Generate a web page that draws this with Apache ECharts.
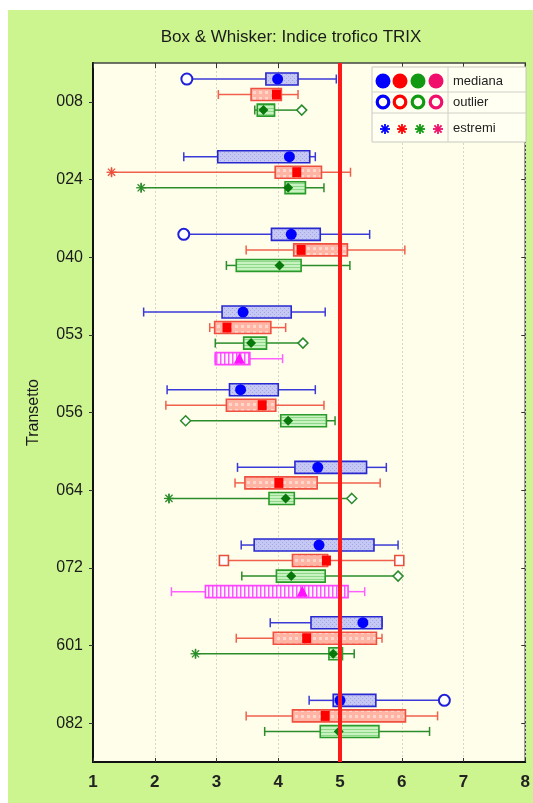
<!DOCTYPE html>
<html><head><meta charset="utf-8">
<script src="https://cdn.jsdelivr.net/npm/echarts@6/dist/echarts.min.js"></script>
<style>html,body{margin:0;padding:0;background:#fff}#c{width:533px;height:803px}</style>
</head><body><div id="c"></div>
<script>
// ---------- DATA ----------
const categories = ['008','024','040','053','056','064','072','601','082'];
// [min, q1, median, q3, max] per category (null = no box)
const blueBox = [
  [2.52,3.80,3.99,4.32,4.94],
  [2.47,3.02,4.18,4.51,4.60],
  [2.47,3.89,4.21,4.68,5.48],
  [1.82,3.09,3.43,4.21,4.76],
  [2.20,3.21,3.39,4.00,4.60],
  [3.34,4.27,4.64,5.43,5.75],
  [3.40,3.61,4.66,5.55,5.94],
  [3.87,4.53,5.37,5.68,5.68],
  [4.50,4.89,5.00,5.58,6.69]
];
const redBox = [
  [3.03,3.56,3.97,4.05,4.32],
  [1.30,3.95,4.30,4.70,5.17],
  [3.48,4.25,4.37,5.12,6.05],
  [2.89,2.97,3.17,3.88,4.12],
  [2.18,3.16,3.74,3.96,4.74],
  [3.30,3.46,4.01,4.63,5.65],
  [3.12,4.23,4.78,4.80,5.96],
  [3.32,3.92,4.46,5.59,5.68],
  [3.48,4.23,4.76,6.06,6.58]
];
const greenBox = [
  [3.62,3.66,3.76,3.94,4.38],
  [1.78,4.11,4.16,4.44,4.74],
  [3.16,3.32,4.02,4.37,5.16],
  [2.98,3.44,3.56,3.81,4.40],
  [2.50,4.04,4.16,4.78,4.92],
  [2.23,3.85,4.12,4.26,5.19],
  [3.41,3.97,4.21,4.76,5.94],
  [2.66,4.82,4.89,5.04,5.23],
  [3.78,4.68,4.98,5.63,6.45]
];
const magentaBox = [null,null,null,[2.98,2.98,3.37,3.54,4.07],null,null,[2.27,2.82,4.39,5.13,5.40],null,null];
// [categoryIndex, value]
const blueOutliers = [[0,2.52],[2,2.47],[8,6.69]];
const redOutliers = [[6,3.12],[6,5.96]];
const greenOutliers = [[0,4.38],[3,4.40],[4,2.50],[5,5.19],[6,5.94]];
const redExtremes = [[1,1.30]];
const greenExtremes = [[1,1.78],[5,2.23],[7,2.66]];
const referenceValue = 5;
const xMin = 1, xMax = 8, xStep = 1;

// ---------- PATTERNS ----------
function pat(w, h, draw) {
  const c = document.createElement('canvas'); c.width = w; c.height = h;
  draw(c.getContext('2d')); return {image: c, repeat: 'repeat'};
}
const bluePat = pat(4, 4, g => { g.fillStyle = '#c6c8f4'; g.fillRect(0,0,4,4); g.fillStyle = '#a4a6e8'; g.fillRect(0,0,1,1); g.fillRect(2,2,1,1); });
const redPat = pat(6, 6, g => { g.fillStyle = '#ffb4a4'; g.fillRect(0,0,6,6); g.fillStyle = '#ffd6cc'; g.fillRect(1,1,3,3); });
const greenPat = pat(4, 3, g => { g.fillStyle = '#c8f2c0'; g.fillRect(0,0,4,3); g.fillStyle = '#8ed88a'; g.fillRect(0,0,4,1); });
const magPat = pat(4, 4, g => { g.fillStyle = '#fff4ff'; g.fillRect(0,0,4,4); g.fillStyle = '#ff55ff'; g.fillRect(0,0,1.5,4); });

const styles = {
  blue:    {line:'#3a3ad8', box:'#2828d0', pattern:bluePat,  median:'circle',   mc:'#0000ff'},
  red:     {line:'#f0604c', box:'#f05040', pattern:redPat,   median:'square',   mc:'#ff0000'},
  green:   {line:'#2a8c2a', box:'#2a9a2a', pattern:greenPat, median:'diamond',  mc:'#08780a'},
  magenta: {line:'#ff60ff', box:'#ff44ff', pattern:magPat,   median:'triangle', mc:'#ff10ff'}
};

function slotY(api, cat, slot) {
  const band = api.size([0, 1])[1];
  return api.coord([xMin, cat])[1] + (slot - 1.5) * band * 0.2 + 0.5;
}
function marker(type, x, y, fill, stroke, open) {
  const st = open ? {fill:'#ffffff', stroke:stroke, lineWidth:open} : {fill:fill};
  if (type === 'circle') return {type:'circle', shape:{cx:x, cy:y, r:5.5}, style:st};
  if (type === 'square') return {type:'rect', shape:{x:x-4.5, y:y-5, width:9, height:10}, style:st};
  if (type === 'diamond') return {type:'polygon', shape:{points:[[x,y-5],[x+5,y],[x,y+5],[x-5,y]]}, style:st};
  if (type === 'triangle') return {type:'polygon', shape:{points:[[x,y-6],[x+5.5,y+5],[x-5.5,y+5]]}, style:st};
  if (type === 'star') {
    const r = 5, d = 3.6, s = {stroke:stroke, lineWidth:1.3};
    return {type:'group', children:[
      {type:'line', shape:{x1:x-r,y1:y,x2:x+r,y2:y}, style:s},
      {type:'line', shape:{x1:x,y1:y-r,x2:x,y2:y+r}, style:s},
      {type:'line', shape:{x1:x-d,y1:y-d,x2:x+d,y2:y+d}, style:s},
      {type:'line', shape:{x1:x-d,y1:y+d,x2:x+d,y2:y-d}, style:s}
    ]};
  }
}
function boxSeries(name, boxes, slot, st) {
  return {
    type:'custom', name:name, z:3,
    data: boxes.map((b, i) => b ? [i].concat(b) : null).filter(Boolean),
    encode:{x:[1,2,3,4,5], y:0},
    renderItem: function (params, api) {
      const cat = api.value(0);
      const y = slotY(api, cat, slot);
      const px = k => api.coord([api.value(k), cat])[0];
      const x0 = px(1), x1 = px(2), xm = px(3), x3 = px(4), x4 = px(5);
      const hh = 6, ch = 4.5;
      const ls = {stroke: st.line, lineWidth: 1.5};
      return {type:'group', children:[
        {type:'line', shape:{x1:x0,y1:y,x2:x1,y2:y}, style:ls},
        {type:'line', shape:{x1:x3,y1:y,x2:x4,y2:y}, style:ls},
        {type:'line', shape:{x1:x0,y1:y-ch,x2:x0,y2:y+ch}, style:ls},
        {type:'line', shape:{x1:x4,y1:y-ch,x2:x4,y2:y+ch}, style:ls},
        {type:'rect', shape:{x:x1, y:y-hh, width:x3-x1, height:2*hh}, style:{fill:st.pattern, stroke:st.box, lineWidth:1.6}},
        marker(st.median, xm, y, st.mc)
      ]};
    }
  };
}
function pointSeries(name, pts, slot, type, color, open) {
  return {
    type:'custom', name:name, z:4,
    data: pts.map(p => [p[0], p[1]]),
    encode:{x:1, y:0},
    renderItem: function (params, api) {
      const cat = api.value(0);
      const y = slotY(api, cat, slot);
      const x = api.coord([api.value(1), cat])[0];
      return marker(type, x, y, color, color, open);
    }
  };
}

const FONT = 'Liberation Sans, Arial, sans-serif';
const chart = echarts.init(document.getElementById('c'), null, {renderer:'canvas'});

const legendX = 372, legendY = 67;
const legCols = ['#0000ff', '#ff0000', '#119a11', '#f0106c'];
const legXs = [383, 400, 418, 436];
const LZ = 100;
const legendChildren = [
  {type:'rect', z:LZ, shape:{x:legendX, y:legendY, width:154, height:75}, style:{fill:'#fffff2', stroke:'#c8c8c0', lineWidth:1}},
  {type:'line', z:LZ+1, shape:{x1:448, y1:legendY, x2:448, y2:legendY+75}, style:{stroke:'#d0d0c8', lineWidth:1}},
  {type:'line', z:LZ+1, shape:{x1:legendX, y1:92, x2:legendX+154, y2:92}, style:{stroke:'#d0d0c8', lineWidth:1}},
  {type:'line', z:LZ+1, shape:{x1:legendX, y1:113, x2:legendX+154, y2:113}, style:{stroke:'#d0d0c8', lineWidth:1}},
  {type:'text', z:LZ+2, x:453, y:81, style:{text:'mediana', font:'13px ' + FONT, fill:'#222', verticalAlign:'middle'}},
  {type:'text', z:LZ+2, x:453, y:102, style:{text:'outlier', font:'13px ' + FONT, fill:'#222', verticalAlign:'middle'}},
  {type:'text', z:LZ+2, x:453, y:128, style:{text:'estremi', font:'13px ' + FONT, fill:'#222', verticalAlign:'middle'}}
];
legCols.forEach((c, i) => {
  legendChildren.push({type:'circle', z:LZ+2, shape:{cx:legXs[i], cy:81, r:7.5}, style:{fill:c}});
  legendChildren.push({type:'circle', z:LZ+2, shape:{cx:legXs[i], cy:102, r:5.8}, style:{fill:'#fffff2', stroke:c, lineWidth:3.2}});
  const x = legXs[i] + 2, y = 129, r = 5, d = 3.6, s = {stroke:c, lineWidth:1.8};
  legendChildren.push({type:'line', z:LZ+2, shape:{x1:x-r,y1:y,x2:x+r,y2:y}, style:s});
  legendChildren.push({type:'line', z:LZ+2, shape:{x1:x,y1:y-r,x2:x,y2:y+r}, style:s});
  legendChildren.push({type:'line', z:LZ+2, shape:{x1:x-d,y1:y-d,x2:x+d,y2:y+d}, style:s});
  legendChildren.push({type:'line', z:LZ+2, shape:{x1:x-d,y1:y+d,x2:x+d,y2:y-d}, style:s});
});

chart.setOption({
  animation:false,
  backgroundColor:'#ffffff',
  graphic:[
    {type:'rect', z:-10, shape:{x:8, y:10, width:525, height:793}, style:{fill:'#ccf590'}},
    {type:'text', x:291, y:37, style:{text:'Box & Whisker: Indice trofico TRIX', font:'17px ' + FONT, fill:'#1a1a1a', align:'center', verticalAlign:'middle'}},
    {type:'group', z:LZ, zlevel:1, children:legendChildren}
  ],
  grid:{left:93, right:5, top:63, bottom:41, show:true, backgroundColor:'#fffeea', borderColor:'#444', borderWidth:1.5},
  xAxis:[
    {type:'value', min:xMin, max:xMax, interval:xStep, position:'bottom',
     axisLine:{show:true, lineStyle:{color:'#111', width:2}},
     axisTick:{show:true, inside:true, length:4, lineStyle:{color:'#333'}},
     axisLabel:{fontSize:17, fontWeight:'bold', color:'#222', margin:12, fontFamily:FONT},
     splitLine:{show:true, lineStyle:{color:'#d6d6c6', width:1, type:[2,2]}}},
    {type:'value', min:xMin, max:xMax, interval:xStep, position:'top',
     axisLine:{show:false}, axisTick:{show:true, inside:true, length:5, lineStyle:{color:'#333'}},
     axisLabel:{show:false}, splitLine:{show:false}}
  ],
  yAxis:[
    {type:'category', data:categories, inverse:true, position:'left',
     name:'Transetto', nameLocation:'middle', nameRotate:90, nameGap:51,
     nameTextStyle:{fontSize:16, color:'#1a1a1a', fontFamily:FONT},
     axisLine:{show:true, lineStyle:{color:'#111', width:2}},
     axisTick:{show:true, alignWithLabel:true, length:4, lineStyle:{color:'#333'}},
     axisLabel:{fontSize:16, color:'#1a1a1a', margin:10, fontFamily:FONT},
     splitLine:{show:false}},
    {type:'category', data:categories, inverse:true, position:'right',
     axisLine:{show:false}, axisTick:{show:true, inside:true, alignWithLabel:true, length:4, lineStyle:{color:'#333'}},
     axisLabel:{show:false}, splitLine:{show:false}}
  ],
  series:[
    boxSeries('blue', blueBox, 0, styles.blue),
    boxSeries('red', redBox, 1, styles.red),
    boxSeries('green', greenBox, 2, styles.green),
    boxSeries('magenta', magentaBox, 3, styles.magenta),
    pointSeries('blueOut', blueOutliers, 0, 'circle', '#2020d8', 2),
    pointSeries('redOut', redOutliers, 1, 'square', '#e8503c', 1.6),
    pointSeries('greenOut', greenOutliers, 2, 'diamond', '#2a8c2a', 1.5),
    pointSeries('redExt', redExtremes, 1, 'star', '#e8503c'),
    pointSeries('greenExt', greenExtremes, 2, 'star', '#2a8c2a'),
    {type:'line', name:'ref', data:[], z:6, silent:true,
     markLine:{silent:true, symbol:'none', label:{show:false},
       lineStyle:{color:'#ff1a1a', width:4, type:'solid'},
       data:[{xAxis:referenceValue}]}}
  ]
});
</script>
</body></html>
